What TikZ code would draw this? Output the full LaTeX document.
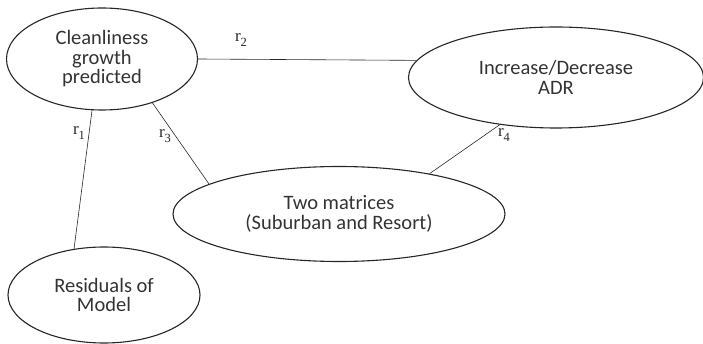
\documentclass[tikz,border=0pt]{standalone}
\usepackage{fontspec}
\setmainfont{Carlito}
\newfontfamily\labfont{Liberation Serif}
\usetikzlibrary{shapes.geometric}
\newcommand{\rlab}[1]{{\labfont\fontsize{17}{17}\selectfont r\raisebox{-0.25em}{\fontsize{12.5}{12.5}\selectfont #1}}}
\tikzset{
  oval/.style={draw=black!85, line width=1.1pt, ellipse, inner sep=0pt, align=center,
    font=\fontsize{20.5}{19.5}\selectfont, text=black!80},
  link/.style={draw=black!85, line width=0.6pt},
  rl/.style={inner sep=0pt, text=black!85}
}
\begin{document}
\begin{tikzpicture}[x=1pt,y=-1pt]
\useasboundingbox (0,0) rectangle (703,344);
\begin{scope}
\clip (0,0) rectangle (703,344);
\node[oval, minimum width=191pt, minimum height=102pt] (A) at (102,59) {Cleanliness\\growth\\predicted};
\node[oval, minimum width=295pt, minimum height=101pt] (B) at (556,77.5) {Increase/Decrease\\ADR};
\node[oval, minimum width=332pt, minimum height=95pt] (C) at (339,214) {Two matrices\\(Suburban and Resort)};
\node[oval, minimum width=192pt, minimum height=96pt] (D) at (104,295) {Residuals of\\Model};
\draw[link] (A.east) -- (B.173);
\draw[link] (A.259) -- (D.123);
\draw[link] (A.319) -- (C.167);
\draw[link] (B.220) -- (C.24);
\node[rl] (r2) at (241,40) {\rlab{2}};
\node[rl] (r1) at (79,133) {\rlab{1}};
\node[rl] (r3) at (165,136) {\rlab{3}};
\node[rl] (r4) at (504,135) {\rlab{4}};
\end{scope}
\end{tikzpicture}
\end{document}
